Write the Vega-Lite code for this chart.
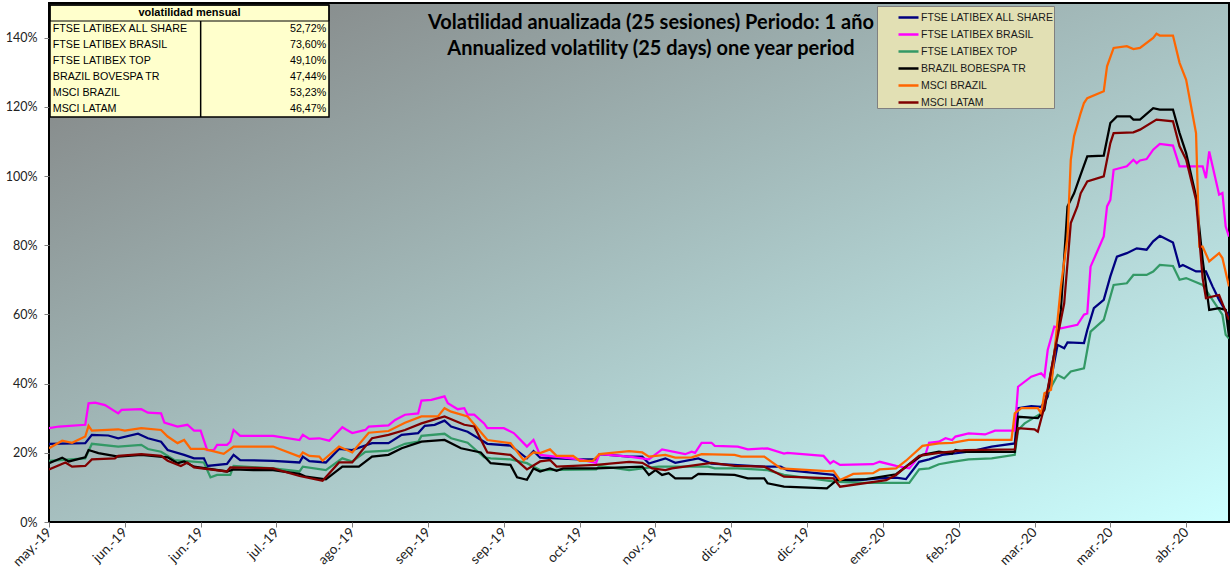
{
"$schema": "https://vega.github.io/schema/vega-lite/v6.json",
"width": 1180, "height": 519,
"autosize": "none",
"padding": {"left": 49, "top": 3, "right": 1, "bottom": 62},
"background": "white",
"config": {
  "view": {"fill": {"gradient": "linear", "x1": 0, "y1": 0, "x2": 1, "y2": 1, "stops": [{"offset": 0, "color": "#808080"}, {"offset": 1, "color": "#CCFFFF"}]}, "stroke": "#000000", "strokeWidth": 2},
  "locale": {
    "number": {"decimal": ",", "thousands": ".", "grouping": [3], "currency": ["", " €"]},
    "time": {"dateTime": "%A, %e de %B de %Y, %X", "date": "%d/%m/%Y", "time": "%H:%M:%S", "periods": ["AM", "PM"],
      "days": ["domingo", "lunes", "martes", "miércoles", "jueves", "viernes", "sábado"],
      "shortDays": ["dom", "lun", "mar", "mié", "jue", "vie", "sáb"],
      "months": ["enero", "febrero", "marzo", "abril", "mayo", "junio", "julio", "agosto", "septiembre", "octubre", "noviembre", "diciembre"],
      "shortMonths": ["ene", "feb", "mar", "abr", "may", "jun", "jul", "ago", "sep", "oct", "nov", "dic"]}
  }
},
"title": {"text": ["Volatilidad anualizada (25 sesiones) Periodo: 1 año", "Annualized volatility (25 days) one year period"], "orient": "top", "anchor": "middle", "frame": "group", "font": "Lato", "fontSize": 20, "fontWeight": "bold", "color": "#000000", "lineHeight": 26, "offset": -53, "dx": 12, "dy": 3},
"datasets": {
  "series": [
    {"k": "A", "name": "FTSE LATIBEX ALL SHARE"},
    {"k": "B", "name": "FTSE LATIBEX BRASIL"},
    {"k": "T", "name": "FTSE LATIBEX TOP"},
    {"k": "V", "name": "BRAZIL BOBESPA TR"},
    {"k": "M", "name": "MSCI BRAZIL"},
    {"k": "L", "name": "MSCI LATAM"}
  ],
  "tabla": [
    {"nombre": "volatilidad mensual", "tipo": "h"},
    {"nombre": "FTSE LATIBEX ALL SHARE", "valor": 0.5272, "tipo": "d"},
    {"nombre": "FTSE LATIBEX BRASIL", "valor": 0.7360, "tipo": "d"},
    {"nombre": "FTSE LATIBEX TOP", "valor": 0.4910, "tipo": "d"},
    {"nombre": "BRAZIL BOVESPA TR", "valor": 0.4744, "tipo": "d"},
    {"nombre": "MSCI BRAZIL", "valor": 0.5323, "tipo": "d"},
    {"nombre": "MSCI LATAM", "valor": 0.4647, "tipo": "d"}
  ],
  "vol": [
{"k":"A","d":"2019-05-10","v":22.6},{"k":"A","d":"2019-05-21","v":22.8},{"k":"A","d":"2019-05-23","v":25.2},{"k":"A","d":"2019-05-28","v":25.0},{"k":"A","d":"2019-05-31","v":24.2},{"k":"A","d":"2019-06-06","v":25.5},{"k":"A","d":"2019-06-09","v":24.2},{"k":"A","d":"2019-06-13","v":23.2},{"k":"A","d":"2019-06-15","v":20.8},{"k":"A","d":"2019-06-20","v":19.4},{"k":"A","d":"2019-06-23","v":18.4},{"k":"A","d":"2019-06-26","v":18.4},{"k":"A","d":"2019-06-27","v":16.2},{"k":"A","d":"2019-07-03","v":16.8},{"k":"A","d":"2019-07-05","v":19.4},{"k":"A","d":"2019-07-07","v":17.9},{"k":"A","d":"2019-07-17","v":17.7},{"k":"A","d":"2019-07-25","v":17.2},{"k":"A","d":"2019-07-26","v":18.9},{"k":"A","d":"2019-07-28","v":17.6},{"k":"A","d":"2019-08-02","v":17.2},{"k":"A","d":"2019-08-06","v":21.1},{"k":"A","d":"2019-08-10","v":20.8},{"k":"A","d":"2019-08-16","v":22.8},{"k":"A","d":"2019-08-21","v":22.8},{"k":"A","d":"2019-08-25","v":25.2},{"k":"A","d":"2019-08-30","v":25.7},{"k":"A","d":"2019-09-01","v":27.8},{"k":"A","d":"2019-09-04","v":28.1},{"k":"A","d":"2019-09-07","v":29.3},{"k":"A","d":"2019-09-09","v":27.6},{"k":"A","d":"2019-09-14","v":26.1},{"k":"A","d":"2019-09-20","v":22.6},{"k":"A","d":"2019-09-27","v":22.1},{"k":"A","d":"2019-10-02","v":18.4},{"k":"A","d":"2019-10-04","v":20.5},{"k":"A","d":"2019-10-06","v":18.6},{"k":"A","d":"2019-10-18","v":18.1},{"k":"A","d":"2019-10-23","v":18.1},{"k":"A","d":"2019-10-24","v":19.6},{"k":"A","d":"2019-11-02","v":18.9},{"k":"A","d":"2019-11-06","v":18.9},{"k":"A","d":"2019-11-08","v":16.9},{"k":"A","d":"2019-11-13","v":18.4},{"k":"A","d":"2019-11-16","v":17.1},{"k":"A","d":"2019-11-23","v":18.4},{"k":"A","d":"2019-11-27","v":16.9},{"k":"A","d":"2019-12-13","v":16.0},{"k":"A","d":"2019-12-18","v":16.0},{"k":"A","d":"2019-12-20","v":15.0},{"k":"A","d":"2020-01-03","v":13.6},{"k":"A","d":"2020-01-05","v":11.6},{"k":"A","d":"2020-01-17","v":12.6},{"k":"A","d":"2020-01-22","v":12.8},{"k":"A","d":"2020-01-25","v":12.4},{"k":"A","d":"2020-01-29","v":17.4},{"k":"A","d":"2020-02-01","v":18.1},{"k":"A","d":"2020-02-05","v":19.4},{"k":"A","d":"2020-02-13","v":20.3},{"k":"A","d":"2020-02-20","v":21.8},{"k":"A","d":"2020-02-27","v":22.7},{"k":"A","d":"2020-02-28","v":32.9},{"k":"A","d":"2020-03-03","v":33.5},{"k":"A","d":"2020-03-06","v":33.3},{"k":"A","d":"2020-03-08","v":36.2},{"k":"A","d":"2020-03-11","v":51.2},{"k":"A","d":"2020-03-13","v":50.2},{"k":"A","d":"2020-03-14","v":51.9},{"k":"A","d":"2020-03-19","v":51.7},{"k":"A","d":"2020-03-20","v":55.5},{"k":"A","d":"2020-03-22","v":61.8},{"k":"A","d":"2020-03-25","v":64.2},{"k":"A","d":"2020-03-27","v":71.0},{"k":"A","d":"2020-03-29","v":76.7},{"k":"A","d":"2020-04-01","v":77.7},{"k":"A","d":"2020-04-04","v":79.1},{"k":"A","d":"2020-04-07","v":78.7},{"k":"A","d":"2020-04-09","v":81.1},{"k":"A","d":"2020-04-11","v":82.7},{"k":"A","d":"2020-04-15","v":80.8},{"k":"A","d":"2020-04-17","v":73.8},{"k":"A","d":"2020-04-18","v":74.3},{"k":"A","d":"2020-04-22","v":72.4},{"k":"A","d":"2020-04-25","v":72.4},{"k":"A","d":"2020-04-27","v":68.1},{"k":"A","d":"2020-04-29","v":64.2},{"k":"A","d":"2020-05-02","v":59.4},
{"k":"B","d":"2019-05-10","v":27.1},{"k":"B","d":"2019-05-13","v":27.6},{"k":"B","d":"2019-05-21","v":28.1},{"k":"B","d":"2019-05-22","v":34.3},{"k":"B","d":"2019-05-24","v":34.5},{"k":"B","d":"2019-05-27","v":33.8},{"k":"B","d":"2019-05-31","v":31.4},{"k":"B","d":"2019-06-01","v":32.4},{"k":"B","d":"2019-06-07","v":32.6},{"k":"B","d":"2019-06-09","v":31.6},{"k":"B","d":"2019-06-13","v":31.4},{"k":"B","d":"2019-06-14","v":28.7},{"k":"B","d":"2019-06-18","v":27.6},{"k":"B","d":"2019-06-21","v":28.1},{"k":"B","d":"2019-06-23","v":26.4},{"k":"B","d":"2019-06-25","v":26.4},{"k":"B","d":"2019-06-27","v":20.8},{"k":"B","d":"2019-06-29","v":20.8},{"k":"B","d":"2019-06-30","v":22.3},{"k":"B","d":"2019-07-03","v":22.3},{"k":"B","d":"2019-07-04","v":23.2},{"k":"B","d":"2019-07-05","v":26.6},{"k":"B","d":"2019-07-07","v":24.9},{"k":"B","d":"2019-07-17","v":24.9},{"k":"B","d":"2019-07-25","v":23.7},{"k":"B","d":"2019-07-26","v":25.2},{"k":"B","d":"2019-07-28","v":24.0},{"k":"B","d":"2019-07-31","v":24.2},{"k":"B","d":"2019-08-03","v":23.5},{"k":"B","d":"2019-08-07","v":27.4},{"k":"B","d":"2019-08-08","v":26.8},{"k":"B","d":"2019-08-10","v":25.7},{"k":"B","d":"2019-08-14","v":26.6},{"k":"B","d":"2019-08-15","v":27.6},{"k":"B","d":"2019-08-21","v":27.9},{"k":"B","d":"2019-08-23","v":29.5},{"k":"B","d":"2019-08-26","v":31.0},{"k":"B","d":"2019-08-30","v":31.4},{"k":"B","d":"2019-08-31","v":35.1},{"k":"B","d":"2019-09-03","v":35.3},{"k":"B","d":"2019-09-07","v":36.3},{"k":"B","d":"2019-09-08","v":34.3},{"k":"B","d":"2019-09-11","v":32.6},{"k":"B","d":"2019-09-13","v":32.9},{"k":"B","d":"2019-09-14","v":31.0},{"k":"B","d":"2019-09-16","v":31.0},{"k":"B","d":"2019-09-19","v":28.5},{"k":"B","d":"2019-09-20","v":27.1},{"k":"B","d":"2019-09-25","v":27.1},{"k":"B","d":"2019-09-28","v":25.7},{"k":"B","d":"2019-10-01","v":22.8},{"k":"B","d":"2019-10-02","v":21.8},{"k":"B","d":"2019-10-04","v":23.7},{"k":"B","d":"2019-10-06","v":19.4},{"k":"B","d":"2019-10-18","v":18.1},{"k":"B","d":"2019-10-23","v":17.1},{"k":"B","d":"2019-10-24","v":19.6},{"k":"B","d":"2019-11-02","v":18.9},{"k":"B","d":"2019-11-08","v":18.1},{"k":"B","d":"2019-11-12","v":21.0},{"k":"B","d":"2019-11-19","v":19.6},{"k":"B","d":"2019-11-21","v":20.3},{"k":"B","d":"2019-11-22","v":20.0},{"k":"B","d":"2019-11-24","v":22.9},{"k":"B","d":"2019-11-27","v":22.9},{"k":"B","d":"2019-11-28","v":22.0},{"k":"B","d":"2019-12-05","v":21.8},{"k":"B","d":"2019-12-08","v":21.0},{"k":"B","d":"2019-12-14","v":21.3},{"k":"B","d":"2019-12-19","v":19.8},{"k":"B","d":"2019-12-20","v":20.0},{"k":"B","d":"2019-12-31","v":19.1},{"k":"B","d":"2020-01-02","v":16.9},{"k":"B","d":"2020-01-03","v":17.6},{"k":"B","d":"2020-01-05","v":16.5},{"k":"B","d":"2020-01-15","v":16.7},{"k":"B","d":"2020-01-17","v":17.4},{"k":"B","d":"2020-01-22","v":16.2},{"k":"B","d":"2020-01-26","v":15.5},{"k":"B","d":"2020-01-29","v":18.9},{"k":"B","d":"2020-01-31","v":19.8},{"k":"B","d":"2020-02-01","v":22.9},{"k":"B","d":"2020-02-04","v":23.2},{"k":"B","d":"2020-02-06","v":24.2},{"k":"B","d":"2020-02-08","v":23.7},{"k":"B","d":"2020-02-09","v":24.7},{"k":"B","d":"2020-02-13","v":25.6},{"k":"B","d":"2020-02-18","v":25.3},{"k":"B","d":"2020-02-21","v":26.4},{"k":"B","d":"2020-02-27","v":26.4},{"k":"B","d":"2020-02-28","v":39.1},{"k":"B","d":"2020-03-03","v":42.0},{"k":"B","d":"2020-03-06","v":43.0},{"k":"B","d":"2020-03-07","v":42.0},{"k":"B","d":"2020-03-08","v":49.7},{"k":"B","d":"2020-03-10","v":56.5},{"k":"B","d":"2020-03-12","v":56.0},{"k":"B","d":"2020-03-17","v":57.0},{"k":"B","d":"2020-03-19","v":59.9},{"k":"B","d":"2020-03-20","v":60.3},{"k":"B","d":"2020-03-21","v":73.8},{"k":"B","d":"2020-03-25","v":82.5},{"k":"B","d":"2020-03-26","v":91.2},{"k":"B","d":"2020-03-27","v":93.1},{"k":"B","d":"2020-03-28","v":101.8},{"k":"B","d":"2020-04-01","v":102.8},{"k":"B","d":"2020-04-03","v":104.7},{"k":"B","d":"2020-04-04","v":103.7},{"k":"B","d":"2020-04-05","v":104.5},{"k":"B","d":"2020-04-07","v":104.9},{"k":"B","d":"2020-04-09","v":107.6},{"k":"B","d":"2020-04-11","v":109.3},{"k":"B","d":"2020-04-15","v":108.8},{"k":"B","d":"2020-04-17","v":102.8},{"k":"B","d":"2020-04-24","v":102.8},{"k":"B","d":"2020-04-25","v":99.4},{"k":"B","d":"2020-04-26","v":107.1},{"k":"B","d":"2020-04-29","v":94.6},{"k":"B","d":"2020-04-30","v":95.1},{"k":"B","d":"2020-05-01","v":85.4},{"k":"B","d":"2020-05-02","v":82.5},
{"k":"T","d":"2019-05-10","v":17.7},{"k":"T","d":"2019-05-21","v":18.4},{"k":"T","d":"2019-05-23","v":22.6},{"k":"T","d":"2019-05-31","v":21.8},{"k":"T","d":"2019-06-07","v":22.3},{"k":"T","d":"2019-06-09","v":21.1},{"k":"T","d":"2019-06-13","v":20.3},{"k":"T","d":"2019-06-17","v":17.9},{"k":"T","d":"2019-06-26","v":17.2},{"k":"T","d":"2019-06-28","v":12.9},{"k":"T","d":"2019-06-30","v":13.6},{"k":"T","d":"2019-07-04","v":13.6},{"k":"T","d":"2019-07-05","v":16.2},{"k":"T","d":"2019-07-17","v":15.5},{"k":"T","d":"2019-07-25","v":14.6},{"k":"T","d":"2019-07-26","v":16.0},{"k":"T","d":"2019-08-02","v":15.0},{"k":"T","d":"2019-08-07","v":18.4},{"k":"T","d":"2019-08-10","v":17.5},{"k":"T","d":"2019-08-14","v":20.3},{"k":"T","d":"2019-08-21","v":20.6},{"k":"T","d":"2019-08-26","v":22.6},{"k":"T","d":"2019-08-30","v":23.2},{"k":"T","d":"2019-08-31","v":24.9},{"k":"T","d":"2019-09-07","v":25.5},{"k":"T","d":"2019-09-09","v":24.2},{"k":"T","d":"2019-09-14","v":22.9},{"k":"T","d":"2019-09-19","v":18.7},{"k":"T","d":"2019-09-21","v":18.4},{"k":"T","d":"2019-09-27","v":18.1},{"k":"T","d":"2019-10-02","v":17.0},{"k":"T","d":"2019-10-04","v":16.0},{"k":"T","d":"2019-10-06","v":15.0},{"k":"T","d":"2019-10-23","v":15.2},{"k":"T","d":"2019-10-24","v":16.2},{"k":"T","d":"2019-11-02","v":15.0},{"k":"T","d":"2019-11-06","v":15.5},{"k":"T","d":"2019-11-11","v":16.0},{"k":"T","d":"2019-11-26","v":16.0},{"k":"T","d":"2019-11-28","v":15.5},{"k":"T","d":"2019-12-05","v":15.5},{"k":"T","d":"2019-12-14","v":15.0},{"k":"T","d":"2019-12-19","v":13.6},{"k":"T","d":"2020-01-04","v":11.6},{"k":"T","d":"2020-01-13","v":11.3},{"k":"T","d":"2020-01-26","v":11.3},{"k":"T","d":"2020-01-29","v":15.2},{"k":"T","d":"2020-02-01","v":15.5},{"k":"T","d":"2020-02-04","v":16.7},{"k":"T","d":"2020-02-08","v":17.4},{"k":"T","d":"2020-02-13","v":18.1},{"k":"T","d":"2020-02-20","v":18.4},{"k":"T","d":"2020-02-27","v":19.4},{"k":"T","d":"2020-02-28","v":26.6},{"k":"T","d":"2020-03-01","v":28.5},{"k":"T","d":"2020-03-06","v":31.4},{"k":"T","d":"2020-03-08","v":37.2},{"k":"T","d":"2020-03-11","v":42.5},{"k":"T","d":"2020-03-13","v":41.5},{"k":"T","d":"2020-03-15","v":43.5},{"k":"T","d":"2020-03-19","v":44.4},{"k":"T","d":"2020-03-21","v":55.0},{"k":"T","d":"2020-03-25","v":58.4},{"k":"T","d":"2020-03-28","v":68.5},{"k":"T","d":"2020-04-01","v":69.0},{"k":"T","d":"2020-04-03","v":71.4},{"k":"T","d":"2020-04-07","v":71.4},{"k":"T","d":"2020-04-09","v":72.4},{"k":"T","d":"2020-04-11","v":74.3},{"k":"T","d":"2020-04-15","v":74.0},{"k":"T","d":"2020-04-17","v":70.0},{"k":"T","d":"2020-04-19","v":70.5},{"k":"T","d":"2020-04-24","v":68.5},{"k":"T","d":"2020-04-27","v":64.2},{"k":"T","d":"2020-04-30","v":59.9},{"k":"T","d":"2020-05-01","v":54.1},{"k":"T","d":"2020-05-02","v":53.0},
{"k":"V","d":"2019-05-10","v":17.0},{"k":"V","d":"2019-05-14","v":18.6},{"k":"V","d":"2019-05-16","v":17.5},{"k":"V","d":"2019-05-21","v":18.7},{"k":"V","d":"2019-05-22","v":20.8},{"k":"V","d":"2019-05-25","v":19.9},{"k":"V","d":"2019-05-31","v":18.9},{"k":"V","d":"2019-06-07","v":19.4},{"k":"V","d":"2019-06-15","v":18.7},{"k":"V","d":"2019-06-18","v":17.0},{"k":"V","d":"2019-06-20","v":17.5},{"k":"V","d":"2019-06-23","v":16.0},{"k":"V","d":"2019-07-03","v":14.6},{"k":"V","d":"2019-07-05","v":15.2},{"k":"V","d":"2019-07-11","v":15.0},{"k":"V","d":"2019-07-17","v":15.0},{"k":"V","d":"2019-07-25","v":13.9},{"k":"V","d":"2019-07-27","v":13.1},{"k":"V","d":"2019-08-02","v":12.3},{"k":"V","d":"2019-08-07","v":16.0},{"k":"V","d":"2019-08-12","v":16.0},{"k":"V","d":"2019-08-16","v":18.9},{"k":"V","d":"2019-08-21","v":19.4},{"k":"V","d":"2019-08-25","v":21.3},{"k":"V","d":"2019-08-31","v":23.2},{"k":"V","d":"2019-09-07","v":23.7},{"k":"V","d":"2019-09-12","v":21.3},{"k":"V","d":"2019-09-18","v":20.1},{"k":"V","d":"2019-09-21","v":17.0},{"k":"V","d":"2019-09-27","v":16.5},{"k":"V","d":"2019-09-29","v":12.9},{"k":"V","d":"2019-10-02","v":12.2},{"k":"V","d":"2019-10-04","v":15.5},{"k":"V","d":"2019-10-06","v":14.6},{"k":"V","d":"2019-10-09","v":15.5},{"k":"V","d":"2019-10-11","v":14.8},{"k":"V","d":"2019-10-13","v":15.5},{"k":"V","d":"2019-10-23","v":15.5},{"k":"V","d":"2019-11-06","v":16.0},{"k":"V","d":"2019-11-08","v":13.6},{"k":"V","d":"2019-11-10","v":15.0},{"k":"V","d":"2019-11-12","v":13.6},{"k":"V","d":"2019-11-14","v":14.1},{"k":"V","d":"2019-11-16","v":12.6},{"k":"V","d":"2019-11-21","v":12.6},{"k":"V","d":"2019-11-23","v":13.9},{"k":"V","d":"2019-12-04","v":13.6},{"k":"V","d":"2019-12-08","v":12.6},{"k":"V","d":"2019-12-13","v":12.6},{"k":"V","d":"2019-12-14","v":11.2},{"k":"V","d":"2019-12-19","v":10.2},{"k":"V","d":"2020-01-01","v":9.7},{"k":"V","d":"2020-01-04","v":12.1},{"k":"V","d":"2020-01-13","v":12.4},{"k":"V","d":"2020-01-22","v":13.8},{"k":"V","d":"2020-01-26","v":16.7},{"k":"V","d":"2020-01-30","v":19.4},{"k":"V","d":"2020-02-04","v":20.3},{"k":"V","d":"2020-02-08","v":19.8},{"k":"V","d":"2020-02-09","v":20.8},{"k":"V","d":"2020-02-12","v":20.3},{"k":"V","d":"2020-02-27","v":20.3},{"k":"V","d":"2020-02-28","v":30.4},{"k":"V","d":"2020-03-05","v":30.0},{"k":"V","d":"2020-03-07","v":32.4},{"k":"V","d":"2020-03-10","v":48.8},{"k":"V","d":"2020-03-12","v":61.3},{"k":"V","d":"2020-03-14","v":91.2},{"k":"V","d":"2020-03-16","v":95.0},{"k":"V","d":"2020-03-18","v":100.4},{"k":"V","d":"2020-03-20","v":105.7},{"k":"V","d":"2020-03-25","v":105.9},{"k":"V","d":"2020-03-27","v":115.3},{"k":"V","d":"2020-03-29","v":117.2},{"k":"V","d":"2020-04-02","v":117.2},{"k":"V","d":"2020-04-03","v":116.3},{"k":"V","d":"2020-04-05","v":116.3},{"k":"V","d":"2020-04-09","v":119.6},{"k":"V","d":"2020-04-11","v":119.2},{"k":"V","d":"2020-04-15","v":119.2},{"k":"V","d":"2020-04-17","v":112.4},{"k":"V","d":"2020-04-19","v":106.6},{"k":"V","d":"2020-04-22","v":94.1},{"k":"V","d":"2020-04-24","v":75.8},{"k":"V","d":"2020-04-26","v":61.3},{"k":"V","d":"2020-04-29","v":61.8},{"k":"V","d":"2020-05-01","v":61.3},{"k":"V","d":"2020-05-02","v":53.6},
{"k":"M","d":"2019-05-10","v":21.3},{"k":"M","d":"2019-05-14","v":23.5},{"k":"M","d":"2019-05-17","v":22.9},{"k":"M","d":"2019-05-21","v":24.7},{"k":"M","d":"2019-05-22","v":27.8},{"k":"M","d":"2019-05-23","v":26.4},{"k":"M","d":"2019-05-31","v":26.8},{"k":"M","d":"2019-06-02","v":26.4},{"k":"M","d":"2019-06-07","v":27.1},{"k":"M","d":"2019-06-13","v":26.6},{"k":"M","d":"2019-06-15","v":24.7},{"k":"M","d":"2019-06-18","v":22.8},{"k":"M","d":"2019-06-20","v":23.7},{"k":"M","d":"2019-06-22","v":21.1},{"k":"M","d":"2019-06-26","v":21.1},{"k":"M","d":"2019-07-02","v":19.7},{"k":"M","d":"2019-07-05","v":21.8},{"k":"M","d":"2019-07-17","v":21.8},{"k":"M","d":"2019-07-25","v":18.9},{"k":"M","d":"2019-07-26","v":20.1},{"k":"M","d":"2019-07-28","v":19.1},{"k":"M","d":"2019-07-31","v":18.9},{"k":"M","d":"2019-08-01","v":17.7},{"k":"M","d":"2019-08-06","v":21.8},{"k":"M","d":"2019-08-10","v":20.1},{"k":"M","d":"2019-08-15","v":25.8},{"k":"M","d":"2019-08-21","v":26.3},{"k":"M","d":"2019-08-26","v":28.7},{"k":"M","d":"2019-08-31","v":30.5},{"k":"M","d":"2019-09-05","v":30.5},{"k":"M","d":"2019-09-07","v":32.9},{"k":"M","d":"2019-09-09","v":31.9},{"k":"M","d":"2019-09-14","v":30.5},{"k":"M","d":"2019-09-20","v":23.7},{"k":"M","d":"2019-09-27","v":22.8},{"k":"M","d":"2019-10-01","v":17.9},{"k":"M","d":"2019-10-04","v":20.1},{"k":"M","d":"2019-10-06","v":19.9},{"k":"M","d":"2019-10-09","v":21.0},{"k":"M","d":"2019-10-11","v":19.1},{"k":"M","d":"2019-10-16","v":19.1},{"k":"M","d":"2019-10-18","v":17.7},{"k":"M","d":"2019-10-22","v":17.7},{"k":"M","d":"2019-10-24","v":19.6},{"k":"M","d":"2019-11-02","v":20.5},{"k":"M","d":"2019-11-06","v":20.1},{"k":"M","d":"2019-11-08","v":18.9},{"k":"M","d":"2019-11-13","v":19.4},{"k":"M","d":"2019-11-16","v":18.6},{"k":"M","d":"2019-11-21","v":18.7},{"k":"M","d":"2019-11-24","v":19.6},{"k":"M","d":"2019-12-04","v":19.4},{"k":"M","d":"2019-12-06","v":18.9},{"k":"M","d":"2019-12-13","v":18.9},{"k":"M","d":"2019-12-18","v":15.5},{"k":"M","d":"2020-01-01","v":14.7},{"k":"M","d":"2020-01-03","v":14.8},{"k":"M","d":"2020-01-05","v":12.1},{"k":"M","d":"2020-01-09","v":13.9},{"k":"M","d":"2020-01-15","v":14.1},{"k":"M","d":"2020-01-17","v":15.2},{"k":"M","d":"2020-01-22","v":15.5},{"k":"M","d":"2020-01-25","v":17.7},{"k":"M","d":"2020-01-30","v":22.0},{"k":"M","d":"2020-02-04","v":22.7},{"k":"M","d":"2020-02-08","v":22.9},{"k":"M","d":"2020-02-13","v":23.7},{"k":"M","d":"2020-02-26","v":23.7},{"k":"M","d":"2020-02-27","v":31.4},{"k":"M","d":"2020-02-29","v":32.9},{"k":"M","d":"2020-03-05","v":32.9},{"k":"M","d":"2020-03-06","v":31.4},{"k":"M","d":"2020-03-07","v":37.2},{"k":"M","d":"2020-03-09","v":38.2},{"k":"M","d":"2020-03-11","v":58.4},{"k":"M","d":"2020-03-12","v":68.1},{"k":"M","d":"2020-03-14","v":82.5},{"k":"M","d":"2020-03-15","v":104.7},{"k":"M","d":"2020-03-16","v":111.5},{"k":"M","d":"2020-03-18","v":118.2},{"k":"M","d":"2020-03-19","v":121.1},{"k":"M","d":"2020-03-20","v":122.5},{"k":"M","d":"2020-03-25","v":124.5},{"k":"M","d":"2020-03-26","v":131.7},{"k":"M","d":"2020-03-28","v":137.0},{"k":"M","d":"2020-04-01","v":137.5},{"k":"M","d":"2020-04-03","v":136.7},{"k":"M","d":"2020-04-05","v":137.0},{"k":"M","d":"2020-04-09","v":139.9},{"k":"M","d":"2020-04-10","v":141.1},{"k":"M","d":"2020-04-11","v":140.6},{"k":"M","d":"2020-04-15","v":140.6},{"k":"M","d":"2020-04-17","v":132.7},{"k":"M","d":"2020-04-19","v":127.8},{"k":"M","d":"2020-04-22","v":112.4},{"k":"M","d":"2020-04-23","v":79.6},{"k":"M","d":"2020-04-24","v":79.6},{"k":"M","d":"2020-04-26","v":75.3},{"k":"M","d":"2020-04-29","v":77.7},{"k":"M","d":"2020-04-30","v":76.3},{"k":"M","d":"2020-05-02","v":68.1},
{"k":"L","d":"2019-05-10","v":15.2},{"k":"L","d":"2019-05-15","v":17.2},{"k":"L","d":"2019-05-17","v":16.0},{"k":"L","d":"2019-05-21","v":16.2},{"k":"L","d":"2019-05-23","v":18.1},{"k":"L","d":"2019-05-30","v":18.4},{"k":"L","d":"2019-05-31","v":19.1},{"k":"L","d":"2019-06-07","v":19.6},{"k":"L","d":"2019-06-13","v":19.1},{"k":"L","d":"2019-06-15","v":17.7},{"k":"L","d":"2019-06-19","v":16.2},{"k":"L","d":"2019-06-21","v":17.2},{"k":"L","d":"2019-06-23","v":15.8},{"k":"L","d":"2019-07-03","v":14.6},{"k":"L","d":"2019-07-04","v":15.8},{"k":"L","d":"2019-07-17","v":15.5},{"k":"L","d":"2019-07-25","v":13.3},{"k":"L","d":"2019-08-01","v":11.9},{"k":"L","d":"2019-08-06","v":17.2},{"k":"L","d":"2019-08-10","v":17.2},{"k":"L","d":"2019-08-16","v":24.2},{"k":"L","d":"2019-08-21","v":25.2},{"k":"L","d":"2019-08-26","v":26.6},{"k":"L","d":"2019-08-31","v":28.5},{"k":"L","d":"2019-09-07","v":30.5},{"k":"L","d":"2019-09-13","v":28.1},{"k":"L","d":"2019-09-16","v":27.6},{"k":"L","d":"2019-09-20","v":20.1},{"k":"L","d":"2019-09-27","v":19.4},{"k":"L","d":"2019-10-02","v":15.2},{"k":"L","d":"2019-10-06","v":17.5},{"k":"L","d":"2019-10-09","v":17.9},{"k":"L","d":"2019-10-11","v":16.0},{"k":"L","d":"2019-10-23","v":16.5},{"k":"L","d":"2019-11-02","v":17.4},{"k":"L","d":"2019-11-06","v":17.1},{"k":"L","d":"2019-11-09","v":15.5},{"k":"L","d":"2019-11-13","v":15.0},{"k":"L","d":"2019-11-15","v":15.5},{"k":"L","d":"2019-11-27","v":17.1},{"k":"L","d":"2019-12-04","v":16.2},{"k":"L","d":"2019-12-13","v":16.0},{"k":"L","d":"2019-12-19","v":13.1},{"k":"L","d":"2020-01-03","v":12.6},{"k":"L","d":"2020-01-05","v":10.2},{"k":"L","d":"2020-01-19","v":12.1},{"k":"L","d":"2020-01-22","v":13.6},{"k":"L","d":"2020-01-29","v":19.1},{"k":"L","d":"2020-02-04","v":20.0},{"k":"L","d":"2020-02-12","v":20.8},{"k":"L","d":"2020-02-27","v":21.0},{"k":"L","d":"2020-02-28","v":27.1},{"k":"L","d":"2020-03-04","v":26.8},{"k":"L","d":"2020-03-05","v":26.1},{"k":"L","d":"2020-03-07","v":33.3},{"k":"L","d":"2020-03-10","v":48.8},{"k":"L","d":"2020-03-13","v":63.2},{"k":"L","d":"2020-03-15","v":86.4},{"k":"L","d":"2020-03-17","v":91.2},{"k":"L","d":"2020-03-18","v":95.0},{"k":"L","d":"2020-03-20","v":98.4},{"k":"L","d":"2020-03-25","v":99.9},{"k":"L","d":"2020-03-27","v":109.5},{"k":"L","d":"2020-03-28","v":112.4},{"k":"L","d":"2020-04-03","v":112.6},{"k":"L","d":"2020-04-05","v":113.4},{"k":"L","d":"2020-04-10","v":116.3},{"k":"L","d":"2020-04-15","v":115.8},{"k":"L","d":"2020-04-17","v":108.6},{"k":"L","d":"2020-04-19","v":104.7},{"k":"L","d":"2020-04-22","v":93.1},{"k":"L","d":"2020-04-24","v":70.5},{"k":"L","d":"2020-04-25","v":64.7},{"k":"L","d":"2020-04-29","v":65.6},{"k":"L","d":"2020-04-30","v":63.2},{"k":"L","d":"2020-05-02","v":58.4}
  ]
},
"resolve": {"scale": {"x": "independent", "y": "independent"}},
"layer": [
  {
    "data": {"name": "vol"},
    "transform": [{"lookup": "k", "from": {"data": {"name": "series"}, "key": "k", "fields": ["name"]}}],
    "mark": {"type": "line", "strokeWidth": 2.25, "clip": true},
    "encoding": {
      "x": {"field": "d", "type": "temporal",
        "scale": {"type": "utc", "domain": [1557446400000, 1588377600000], "nice": false},
        "axis": {"values": [1557446400000, 1559433600000, 1561420800000, 1563408000000, 1565395200000, 1567382400000, 1569369600000, 1571356800000, 1573344000000, 1575331200000, 1577318400000, 1579305600000, 1581292800000, 1583280000000, 1585267200000, 1587254400000],
          "labelExpr": "utcFormat(datum.value, '%b') + '.-' + utcFormat(datum.value, '%y')",
          "labelAngle": -45, "labelAlign": "right", "labelBaseline": "middle", "labelPadding": 3, "labelFont": "Lato", "labelFontSize": 13.5, "labelColor": "#222222",
          "labelOverlap": false, "labelBound": false, "labelFlush": false,
          "tickColor": "#808080", "tickSize": 5, "domain": false, "grid": false, "title": null}},
      "y": {"field": "v", "type": "quantitative",
        "scale": {"domain": [0, 150], "nice": false, "zero": true},
        "axis": {"values": [0, 20, 40, 60, 80, 100, 120, 140], "labelExpr": "datum.value + '%'", "labelFont": "Lato", "labelFontSize": 12.5, "labelColor": "#222222", "labelPadding": 7,
          "tickColor": "#808080", "tickSize": 5, "domain": false, "grid": false, "title": null}},
      "color": {"field": "name", "type": "nominal",
        "scale": {"domain": ["FTSE LATIBEX ALL SHARE", "FTSE LATIBEX BRASIL", "FTSE LATIBEX TOP", "BRAZIL BOBESPA TR", "MSCI BRAZIL", "MSCI LATAM"],
                  "range": ["#000080", "#FF00FF", "#339966", "#000000", "#FF6600", "#800000"]},
        "legend": {"orient": "none", "legendX": 828, "legendY": 3, "title": null,
          "symbolType": "stroke", "symbolSize": 400, "symbolStrokeWidth": 2.5,
          "labelFont": "Liberation Sans", "labelFontSize": 10.5, "labelColor": "#1a1a1a", "labelOffset": 1,
          "fillColor": "#E2E0B4",
          "strokeColor": "#808080", "padding": 0, "rowPadding": -5.8, "symbolOffset": 20}}
    }
  },
  {
    "data": {"name": "tabla"},
    "resolve": {"scale": {"y": "independent"}},
    "layer": [
      {
        "mark": {"type": "rect", "fill": "#FFFFCC"},
        "encoding": {
          "x": {"datum": 0, "type": "quantitative", "scale": {"domain": [0, 1], "range": [1, 280]}, "axis": null},
          "x2": {"datum": 1},
          "y": {"field": "nombre", "type": "nominal", "sort": null, "scale": {"domain": ["volatilidad mensual", "FTSE LATIBEX ALL SHARE", "FTSE LATIBEX BRASIL", "FTSE LATIBEX TOP", "BRAZIL BOVESPA TR", "MSCI BRAZIL", "MSCI LATAM"], "range": [2, 114], "paddingInner": 0, "paddingOuter": 0}, "axis": null}
        }
      },
      {
        "transform": [{"filter": "datum.tipo === 'h'"}],
        "mark": {"type": "rect", "fill": null, "stroke": "#000000", "strokeWidth": 1},
        "encoding": {
          "x": {"datum": 0, "type": "quantitative", "scale": {"domain": [0, 1], "range": [1, 280]}, "axis": null},
          "x2": {"datum": 1},
          "y": {"field": "nombre", "type": "nominal", "scale": {"domain": ["volatilidad mensual", "FTSE LATIBEX ALL SHARE", "FTSE LATIBEX BRASIL", "FTSE LATIBEX TOP", "BRAZIL BOVESPA TR", "MSCI BRAZIL", "MSCI LATAM"], "range": [2, 114], "paddingInner": 0, "paddingOuter": 0}, "axis": null}
        }
      },
      {
        "transform": [{"filter": "datum.tipo === 'h'"}],
        "mark": {"type": "rect", "fill": null, "stroke": "#000000", "strokeWidth": 1.5},
        "encoding": {
          "x": {"datum": 0, "type": "quantitative", "scale": {"domain": [0, 1], "range": [1, 280]}, "axis": null},
          "x2": {"datum": 1},
          "y": {"datum": 0, "type": "quantitative", "scale": {"domain": [0, 7], "range": [2, 114]}, "axis": null},
          "y2": {"datum": 7}
        }
      },
      {
        "transform": [{"filter": "datum.tipo === 'h'"}],
        "mark": {"type": "rule", "stroke": "#000000", "strokeWidth": 1.5},
        "encoding": {
          "x": {"datum": 0.54, "type": "quantitative", "scale": {"domain": [0, 1], "range": [1, 280]}, "axis": null},
          "y": {"datum": 1, "type": "quantitative", "scale": {"domain": [0, 7], "range": [2, 114]}, "axis": null},
          "y2": {"datum": 7}
        }
      },
      {
        "transform": [{"filter": "datum.tipo === 'd'"}],
        "mark": {"type": "text", "align": "left", "baseline": "middle", "font": "Liberation Sans", "fontSize": 10.7, "color": "#000000"},
        "encoding": {
          "x": {"datum": 0.01, "type": "quantitative", "scale": {"domain": [0, 1], "range": [1, 280]}, "axis": null},
          "y": {"field": "nombre", "type": "nominal", "scale": {"domain": ["volatilidad mensual", "FTSE LATIBEX ALL SHARE", "FTSE LATIBEX BRASIL", "FTSE LATIBEX TOP", "BRAZIL BOVESPA TR", "MSCI BRAZIL", "MSCI LATAM"], "range": [2, 114], "paddingInner": 0, "paddingOuter": 0}, "axis": null},
          "text": {"field": "nombre"}
        }
      },
      {
        "transform": [{"filter": "datum.tipo === 'd'"}],
        "mark": {"type": "text", "align": "right", "baseline": "middle", "font": "Liberation Sans", "fontSize": 10.7, "color": "#000000"},
        "encoding": {
          "x": {"datum": 0.99, "type": "quantitative", "scale": {"domain": [0, 1], "range": [1, 280]}, "axis": null},
          "y": {"field": "nombre", "type": "nominal", "scale": {"domain": ["volatilidad mensual", "FTSE LATIBEX ALL SHARE", "FTSE LATIBEX BRASIL", "FTSE LATIBEX TOP", "BRAZIL BOVESPA TR", "MSCI BRAZIL", "MSCI LATAM"], "range": [2, 114], "paddingInner": 0, "paddingOuter": 0}, "axis": null},
          "text": {"field": "valor", "type": "quantitative", "format": ".2%"}
        }
      },
      {
        "transform": [{"filter": "datum.tipo === 'h'"}],
        "mark": {"type": "text", "align": "center", "baseline": "middle", "font": "Liberation Sans", "fontSize": 11, "fontWeight": "bold", "color": "#000000"},
        "encoding": {
          "x": {"datum": 0.5, "type": "quantitative", "scale": {"domain": [0, 1], "range": [1, 280]}, "axis": null},
          "y": {"field": "nombre", "type": "nominal", "scale": {"domain": ["volatilidad mensual", "FTSE LATIBEX ALL SHARE", "FTSE LATIBEX BRASIL", "FTSE LATIBEX TOP", "BRAZIL BOVESPA TR", "MSCI BRAZIL", "MSCI LATAM"], "range": [2, 114], "paddingInner": 0, "paddingOuter": 0}, "axis": null},
          "text": {"field": "nombre"}
        }
      }
    ]
  }
]
}
